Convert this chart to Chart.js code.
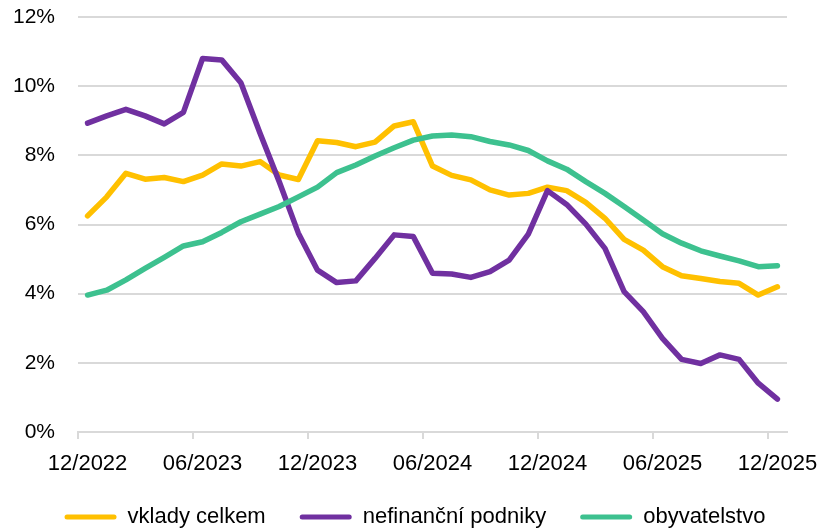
<!DOCTYPE html>
<html>
<head>
<meta charset="utf-8">
<script src="https://cdn.jsdelivr.net/npm/chart.js@4/dist/chart.umd.min.js"></script>
<style>
  html, body { margin: 0; padding: 0; background: #fff; }
  #wrap { width: 821px; height: 530px; }
</style>
</head>
<body>
<div id="wrap"><canvas id="chart"></canvas></div>
<script>
// months 12/2022 .. 12/2025
const months = [
  '12/2022', '01/2023', '02/2023', '03/2023', '04/2023', '05/2023', '06/2023',
  '07/2023', '08/2023', '09/2023', '10/2023', '11/2023', '12/2023',
  '01/2024', '02/2024', '03/2024', '04/2024', '05/2024', '06/2024',
  '07/2024', '08/2024', '09/2024', '10/2024', '11/2024', '12/2024',
  '01/2025', '02/2025', '03/2025', '04/2025', '05/2025', '06/2025',
  '07/2025', '08/2025', '09/2025', '10/2025', '11/2025', '12/2025',
];

// year-on-year growth, %
const vkladyCelkem = [
  6.25, 6.80, 7.48, 7.31, 7.36, 7.24, 7.43, 7.75, 7.69, 7.82, 7.43, 7.30,
  8.42, 8.37, 8.25, 8.38, 8.85, 8.97, 7.69, 7.42, 7.29, 7.00, 6.85, 6.90,
  7.08, 6.98, 6.64, 6.18, 5.57, 5.26, 4.78, 4.52, 4.44, 4.35, 4.30, 3.96, 4.20,
];
const nefinancniPodniky = [
  8.93, 9.14, 9.33, 9.14, 8.91, 9.24, 10.80, 10.76, 10.10, 8.64, 7.24, 5.75,
  4.68, 4.32, 4.37, 5.02, 5.70, 5.65, 4.59, 4.57, 4.47, 4.64, 4.97, 5.72,
  6.98, 6.58, 6.01, 5.31, 4.06, 3.48, 2.71, 2.10, 1.98, 2.23, 2.10, 1.41, 0.95,
];
const obyvatelstvo = [
  3.96, 4.10, 4.40, 4.73, 5.05, 5.38, 5.50, 5.77, 6.08, 6.30, 6.52, 6.80,
  7.08, 7.50, 7.72, 7.98, 8.22, 8.44, 8.56, 8.59, 8.54, 8.40, 8.30, 8.14,
  7.84, 7.60, 7.24, 6.90, 6.52, 6.13, 5.73, 5.46, 5.24, 5.09, 4.95, 4.78, 4.81,
];

const seriesNames = ['vklady celkem', 'nefinanční podniky', 'obyvatelstvo'];
const seriesColors = ['#FFC000', '#7030A0', '#3DC18F'];

const yTicks = [0, 2, 4, 6, 8, 10, 12];

const FAMILY = '"Liberation Sans", Arial, sans-serif';
const GRID = '#d9d9d9';

function line(label, data, color, order) {
  return {
    label,
    data,
    borderColor: color,
    backgroundColor: color,
    borderWidth: 5.5,
    borderJoinStyle: 'round',
    borderCapStyle: 'round',
    pointRadius: 0,
    tension: 0,
    order,
  };
}

// nudge the legend row a bit to the right
const legendShift = {
  id: 'legendShift',
  afterLayout(chart) {
    chart.legend.left += 15;
    chart.legend.right += 15;
  },
};

const ctx = document.getElementById('chart').getContext('2d');

new Chart(ctx, {
  type: 'line',
  data: {
    labels: months,
    datasets: [
      line(seriesNames[0], vkladyCelkem, seriesColors[0], 3),
      line(seriesNames[1], nefinancniPodniky, seriesColors[1], 2),
      line(seriesNames[2], obyvatelstvo, seriesColors[2], 1),
    ],
  },
  plugins: [legendShift],
  options: {
    responsive: true,
    maintainAspectRatio: false,
    animation: false,
    layout: {
      padding: { left: 13, right: 34, top: 17, bottom: 0 },
    },
    plugins: {
      tooltip: { enabled: false },
      legend: {
        position: 'bottom',
        maxHeight: 58,
        labels: {
          color: '#000',
          font: { family: FAMILY, size: 22 },
          boxWidth: 52,
          boxHeight: 5,
          padding: 34,
          sort: (a, b) => a.datasetIndex - b.datasetIndex,
          generateLabels(chart) {
            const items = Chart.defaults.plugins.legend.labels.generateLabels(chart);
            return items.map((item) => ({ ...item, lineWidth: 0, borderRadius: 2.5 }));
          },
        },
      },
    },
    scales: {
      x: {
        type: 'category',
        offset: true,
        afterFit(axis) {
          axis.height = 40;
          axis.paddingLeft = 0;
          axis.paddingRight = 0;
        },
        grid: {
          offset: true,
          drawOnChartArea: false,
          drawTicks: true,
          tickLength: 7,
          lineWidth: 2,
          color: (c) => (c.index % 6 === 0 ? GRID : 'rgba(0,0,0,0)'),
        },
        border: { color: GRID, width: 2 },
        ticks: {
          autoSkip: false,
          maxRotation: 0,
          color: '#000',
          font: { family: FAMILY, size: 22 },
          padding: 12,
          callback(value, index) {
            return index % 6 === 0 ? months[index] : '';
          },
        },
      },
      y: {
        min: yTicks[0],
        max: yTicks[yTicks.length - 1],
        afterFit(axis) {
          axis.width = 65;
          axis.paddingTop = 0;
          axis.paddingBottom = 0;
        },
        grid: {
          color: GRID,
          lineWidth: 2,
          drawTicks: false,
        },
        border: { display: false },
        afterBuildTicks(axis) {
          axis.ticks = yTicks.map((v) => ({ value: v }));
        },
        ticks: {
          color: '#000',
          font: { family: FAMILY, size: 21 },
          padding: 23,
          callback: (v) => v + '%',
        },
      },
    },
  },
});
</script>
</body>
</html>
